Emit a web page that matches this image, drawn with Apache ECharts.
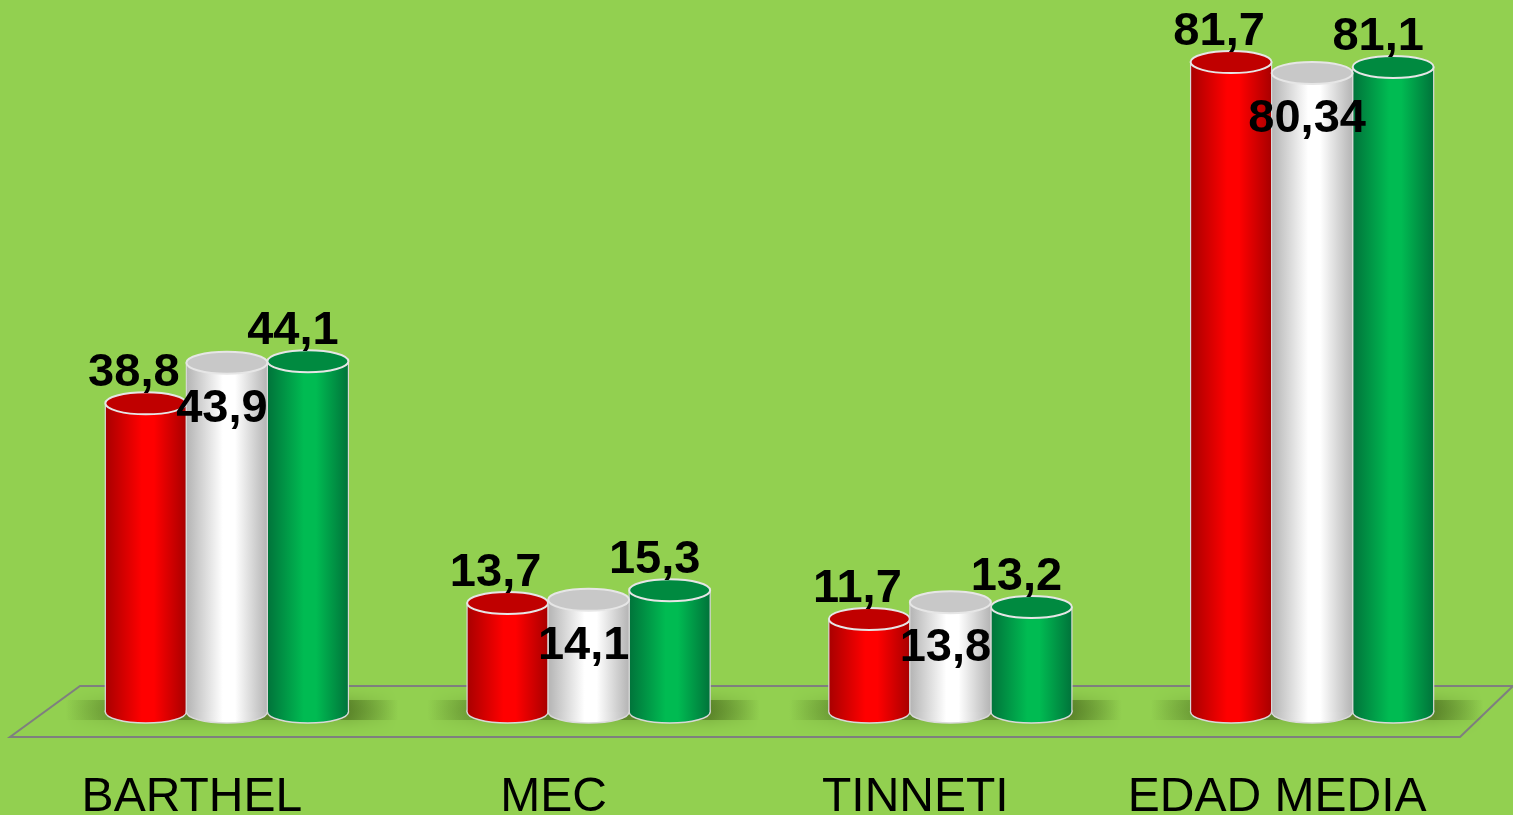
<!DOCTYPE html>
<html>
<head>
<meta charset="utf-8">
<style>
  html, body { margin: 0; padding: 0; background: #92d050; }
  #canvas { width: 1513px; height: 815px; }
</style>
<script src="https://cdn.jsdelivr.net/npm/echarts@6/dist/echarts.min.js"></script>
</head>
<body>
<div id="canvas"></div>
<script>
var categories = ['BARTHEL', 'MEC', 'TINNETI', 'EDAD MEDIA'];
var redValues = [38.8, 13.7, 11.7, 81.7];
var whiteValues = [43.9, 14.1, 13.8, 80.34];
var greenValues = [44.1, 15.3, 13.2, 81.1];

// colours of each cylinder: edge, middle, top cap
var styles = [
    {edge: '#a80000', mid: '#ff0000', cap: '#c00000', slot: -1, lx: -12, ly: -30},
    {edge: '#b4b4b4', mid: '#ffffff', cap: '#c8c8c8', slot: 0, lx: -5, ly: 46},
    {edge: '#00733a', mid: '#00bb52', cap: '#008a40', slot: 1, lx: -15, ly: -30}
];

var fmt = function(v) {
    return String(v).replace('.', ',');
};

var cylinder = function(st) {
    return function(params, api) {
        var i = api.value(0);
        var v = api.value(1);
        var top = api.coord([i, v]);
        var base = api.coord([i, 0]);
        var catW = api.size([1, 0])[0];
        var w = catW * 0.224;
        var cx = top[0] + st.slot * w;
        var ry = 11;
        var grad = new echarts.graphic.LinearGradient(0, 0, 1, 0, [
            {offset: 0, color: st.edge},
            {offset: 0.45, color: st.mid},
            {offset: 0.6, color: st.mid},
            {offset: 1, color: st.edge}
        ]);
        var children = [];
        if (st.slot == -1) {
            // soft shadow on the floor under the group
            children.push({
                type: 'rect',
                shape: {x: cx - w / 2 - 40, y: base[1] - 12, width: w * 3 + 90, height: 20},
                style: {
                    fill: new echarts.graphic.LinearGradient(0, 0, 1, 0, [
                        {offset: 0, color: 'rgba(60,90,20,0)'},
                        {offset: 0.2, color: 'rgba(60,90,20,0.5)'},
                        {offset: 0.85, color: 'rgba(60,90,20,0.5)'},
                        {offset: 1, color: 'rgba(60,90,20,0)'}
                    ]),
                    shadowBlur: 18,
                    shadowColor: 'rgba(60,90,20,0.7)'
                }
            });
        }
        children.push({
            type: 'ellipse',
            shape: {cx: cx, cy: base[1], rx: w / 2, ry: ry},
            style: {fill: grad, stroke: '#d9d9d9', lineWidth: 1.5}
        });
        children.push({
            type: 'rect',
            shape: {x: cx - w / 2, y: top[1], width: w, height: base[1] - top[1]},
            style: {fill: grad}
        });
        children.push({
            type: 'line',
            shape: {x1: cx - w / 2, y1: top[1], x2: cx - w / 2, y2: base[1]},
            style: {stroke: '#d9d9d9', lineWidth: 1.2}
        });
        children.push({
            type: 'line',
            shape: {x1: cx + w / 2, y1: top[1], x2: cx + w / 2, y2: base[1]},
            style: {stroke: '#d9d9d9', lineWidth: 1.2}
        });
        children.push({
            type: 'ellipse',
            shape: {cx: cx, cy: top[1], rx: w / 2, ry: ry},
            style: {fill: st.cap, stroke: '#e6e6e6', lineWidth: 2}
        });
        children.push({
            type: 'text',
            z2: 100,
            style: {
                x: cx + st.lx,
                y: top[1] + st.ly,
                text: fmt(v),
                fill: '#000',
                font: 'bold 47px "Liberation Sans", Arial, sans-serif',
                align: 'center',
                verticalAlign: 'middle'
            }
        });
        return {type: 'group', children: children};
    };
};

var makeData = function(arr) {
    return arr.map(function(v, i) { return [i, v]; });
};

var myChart = echarts.init(document.getElementById('canvas'));
var option = {
    backgroundColor: '#92d050',
    animation: false,
    grid: {left: 46, right: 20, top: 12, bottom: 103, containLabel: false, outerBoundsMode: 'none'},
    xAxis: {
        type: 'category',
        data: categories,
        axisLine: {show: false},
        axisTick: {show: false},
        axisLabel: {
            color: '#000',
            fontSize: 48,
            fontFamily: '"Liberation Sans", Arial, sans-serif',
            margin: 62,
            interval: 0,
            hideOverlap: false,
            padding: [0, 70, 0, 0]
        }
    },
    yAxis: {
        type: 'value',
        min: 0,
        max: 88,
        show: false,
        splitLine: {show: false}
    },
    graphic: [{
        type: 'polygon',
        z: 0,
        shape: {points: [[10, 737], [1460, 737], [1513, 686], [80, 686]]},
        style: {fill: 'none', stroke: '#7f7f7f', lineWidth: 2}
    }],
    series: [
        {name: 'rojo', type: 'custom', z: 2, renderItem: cylinder(styles[0]), data: makeData(redValues)},
        {name: 'verde', type: 'custom', z: 3, renderItem: cylinder(styles[2]), data: makeData(greenValues)},
        {name: 'blanco', type: 'custom', z: 4, renderItem: cylinder(styles[1]), data: makeData(whiteValues)}
    ]
};
myChart.setOption(option);
</script>
</body>
</html>
